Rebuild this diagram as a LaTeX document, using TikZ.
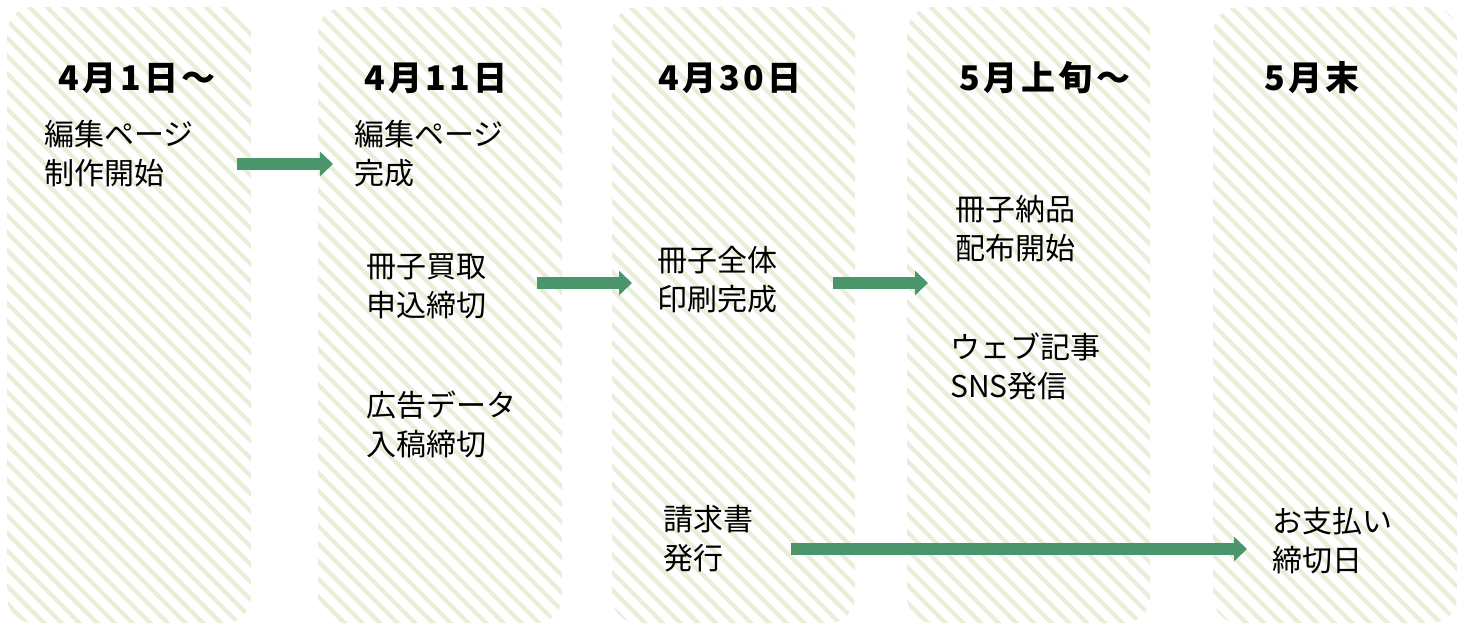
\documentclass[tikz,border=0pt]{standalone}
\usepackage{fontspec}
\setmainfont{Noto Sans CJK JP}
\newfontfamily\jphead{Noto Sans CJK JP}[LetterSpace=10]
\usetikzlibrary{patterns.meta,arrows.meta}
\definecolor{stripe}{RGB}{232,238,216}
\definecolor{arrowgreen}{RGB}{74,149,108}
\tikzset{
  colbox/.style={pattern={Lines[angle=-45,distance=12.5pt,line width=4.2pt]},pattern color=stripe,rounded corners=26pt},
  headtxt/.style={inner sep=0pt,font=\fontsize{34}{40}\selectfont\jphead\bfseries},
  bodytxt/.style={inner sep=0pt,anchor=west,align=left,font=\fontsize{30}{39}\selectfont},
  blockarrow/.style={draw=arrowgreen,line width=12.5pt,-{Triangle[length=13pt,width=24pt]},fill=arrowgreen}
}
\begin{document}
\begin{tikzpicture}[x=1pt,y=-1pt]
\useasboundingbox (0,0) rectangle (1461,632);
\fill[white] (0,0) rectangle (1461,632);
% columns
\path[colbox] (7,7) rectangle (251,623);
\path[colbox] (318,7) rectangle (562,623);
\path[colbox] (612,7) rectangle (855,623);
\path[colbox] (907,7) rectangle (1150,623);
\path[colbox] (1213,7) rectangle (1457,623);
% headings
\node[headtxt] (h1) at (137,78) {4月1日〜};
\node[headtxt] (h2) at (436,78) {4月11日};
\node[headtxt] (h3) at (730,78) {4月30日};
\node[headtxt] (h4) at (1045,78) {5月上旬〜};
\node[headtxt] (h5) at (1312,78) {5月末};
% body texts
\node[bodytxt] (t1) at (44,154) {編集ページ\\制作開始};
\node[bodytxt] (t2) at (354,154) {編集ページ\\完成};
\node[bodytxt] (t3) at (366,286) {冊子買取\\申込締切};
\node[bodytxt] (t4) at (366,424) {広告データ\\入稿締切};
\node[bodytxt] (t5) at (657,280) {冊子全体\\印刷完成};
\node[bodytxt] (t6) at (663,539) {請求書\\発行};
\node[bodytxt] (t7) at (955,229) {冊子納品\\配布開始};
\node[bodytxt] (t8) at (950,366) {ウェブ記事\\SNS発信};
\node[bodytxt] (t9) at (1272,541) {お支払い\\締切日};
% arrow end points
\coordinate (a1s) at (237,164);
\coordinate (a1e) at (333,164);
\coordinate (a2s) at (537,283);
\coordinate (a2e) at (632,283);
\coordinate (a3s) at (833,283);
\coordinate (a3e) at (928,283);
\coordinate (a4s) at (791,549);
\coordinate (a4e) at (1247,549);
\draw[blockarrow] (a1s) -- (a1e);
\draw[blockarrow] (a2s) -- (a2e);
\draw[blockarrow] (a3s) -- (a3e);
\draw[blockarrow] (a4s) -- (a4e);
\end{tikzpicture}
\end{document}
